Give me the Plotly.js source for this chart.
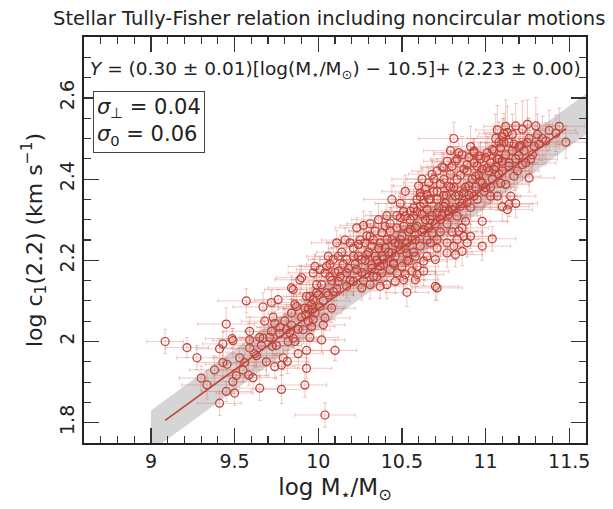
<!DOCTYPE html>
<html>
<head>
<meta charset="utf-8">
<script src="https://cdn.plot.ly/plotly-3.0.1.min.js"></script>
<style>html,body{margin:0;padding:0;background:#fff}#chart{width:613px;height:509px}</style>
</head>
<body>
<div id="chart"></div>
<script>
// Galaxy sample: stellar mass (log M*/Msun) and velocity (log c1 at 2.2 Rd)
const logMstar = [
  9.085, 9.215, 9.275, 9.335, 9.41, 9.45, 9.41, 9.43, 9.43, 9.455,
  9.485, 9.49, 9.51, 9.49, 9.45, 9.50, 9.56, 9.57, 9.585, 9.61,
  9.59, 9.59, 9.59, 9.65, 9.63, 9.65, 9.67, 9.67, 9.72, 9.76,
  9.725, 9.72, 9.74, 9.78, 9.79, 9.815, 9.78, 9.74, 9.77, 9.80,
  9.81, 9.83, 9.85, 9.86, 9.86, 9.87, 9.85, 9.84, 9.89, 9.92,
  9.93, 9.93, 9.91, 9.925, 9.94, 9.96, 9.97, 9.98, 10.01, 10.02,
  10.04, 10.03, 10.04, 10.08, 10.09, 10.10, 10.06, 9.95, 9.97, 10.00,
  9.92, 9.84,
  10.81, 11.07, 11.11, 11.13, 11.18, 11.22, 11.25, 11.30, 11.42, 11.48,
  11.10, 11.14, 11.08, 11.17, 11.21, 11.26, 11.29, 11.32, 11.36, 11.20,
  11.27, 11.22, 11.26, 11.19, 11.17, 11.14, 11.10, 11.07, 11.03, 11.01,
  11.05, 11.08, 11.12, 11.15, 11.10, 11.14, 11.18, 11.13, 11.07, 11.03,
  10.98, 10.98, 11.04, 11.00, 10.97, 10.94, 10.90, 10.93, 10.89, 10.84,
  10.83, 10.82, 10.95, 10.98, 11.01, 10.87, 10.83, 10.79, 10.75, 10.78,
  10.73, 10.66, 10.69, 10.64, 10.61, 10.61, 10.59, 10.66, 10.71, 10.765,
  10.82, 10.87, 10.90, 10.93, 10.89, 10.85, 10.80, 10.75, 10.71, 10.65,
  10.61, 10.57, 10.55, 10.52, 10.49, 10.57, 10.62, 10.67, 10.73, 10.78,
  10.83, 10.88, 10.86, 10.84, 10.87, 10.83, 10.91, 10.89, 10.81, 10.77,
  10.71, 10.68, 10.63, 10.59, 10.55, 10.51, 10.47, 10.43, 10.40, 10.38,
  10.34, 10.27, 10.31, 10.41, 10.46, 10.49, 10.53, 10.58, 10.61, 10.67,
  10.71, 10.77, 10.82, 10.86, 10.65, 10.70, 10.63, 10.58, 10.53, 10.49,
  10.44, 10.40, 10.37, 10.32, 10.28, 10.24, 10.11, 10.29, 10.34, 10.39,
  10.45, 10.50, 10.54, 10.59, 10.56, 10.52, 10.47, 10.43, 10.37, 10.32,
  10.26, 10.21, 10.17, 10.12, 10.09, 10.05, 10.01, 9.97, 9.98, 10.12,
  10.17, 10.23, 10.28, 10.33, 10.38, 10.41, 10.46, 10.51, 10.58, 10.63,
  10.59, 10.70, 10.71, 10.53, 10.37, 10.31, 10.26, 10.21, 10.17, 10.12,
  10.07, 10.04, 9.99, 9.93, 9.90, 10.06, 10.19, 10.60, 10.65, 10.68,
  10.71, 10.75, 10.77, 10.80, 10.93, 11.00, 11.09, 11.04, 10.96,
  // crowded core along the relation
  10.02, 10.05, 10.08, 10.10, 10.13, 10.15, 10.18, 10.03, 10.07, 10.14,
  10.19, 10.11, 9.96, 9.99, 10.16,
  10.22, 10.24, 10.26, 10.28, 10.30, 10.32, 10.35, 10.36, 10.38, 10.25,
  10.29, 10.33, 10.39, 10.21, 10.27, 10.35, 10.31, 10.36, 10.23,
  10.42, 10.44, 10.46, 10.48, 10.50, 10.52, 10.54, 10.56, 10.58, 10.43,
  10.47, 10.51, 10.55, 10.59, 10.45, 10.53, 10.57, 10.41, 10.49, 10.44, 10.52,
  10.62, 10.64, 10.66, 10.68, 10.70, 10.72, 10.74, 10.76, 10.78, 10.63,
  10.67, 10.71, 10.75, 10.79, 10.65, 10.73, 10.77, 10.69, 10.62, 10.74, 10.80,
  10.82, 10.84, 10.86, 10.88, 10.90, 10.92, 10.94, 10.96, 10.98, 10.85,
  10.89, 10.93, 10.97, 10.81, 10.91, 10.95, 10.99, 10.86, 10.91, 10.79,
  11.02, 11.04, 11.06, 11.08, 11.10, 11.12, 11.14, 11.16, 11.18, 11.20,
  11.23, 11.25, 11.28, 11.31, 11.05, 11.11, 11.16, 11.03, 11.09, 11.24,
  11.34, 11.38, 11.44, 11.06, 11.12,
  9.62, 9.66, 9.69, 9.71, 9.75, 9.77, 9.82, 9.84, 9.88, 9.90,
  9.94, 9.97, 9.68, 9.73, 9.88, 9.95,
  9.30, 9.38, 9.53, 9.55
];
const logC1 = [
  2.000, 1.985, 1.960, 1.893, 1.848, 2.043, 1.982, 1.994, 1.948, 1.944,
  2.007, 2.002, 1.916, 1.901, 1.877, 1.873, 1.948, 2.100, 1.917, 1.911,
  1.984, 2.004, 2.025, 1.885, 1.965, 2.010, 2.008, 2.085, 2.096, 2.103,
  1.988, 2.025, 1.938, 1.942, 1.960, 1.951, 1.882, 2.045, 2.035, 2.051,
  2.029, 2.021, 2.008, 2.000, 2.091, 2.086, 2.128, 2.132, 2.152, 1.893,
  1.934, 1.978, 2.029, 2.066, 2.080, 2.037, 2.054, 2.070, 2.086, 2.004,
  1.819, 2.041, 2.058, 2.082, 2.123, 1.978, 2.115, 2.111, 2.103, 2.115,
  2.082, 2.070,
  2.500, 2.521, 2.512, 2.515, 2.531, 2.523, 2.535, 2.531, 2.513, 2.491,
  2.504, 2.490, 2.491, 2.486, 2.483, 2.500, 2.481, 2.486, 2.494, 2.458,
  2.449, 2.436, 2.403, 2.420, 2.407, 2.432, 2.444, 2.449, 2.440, 2.465,
  2.424, 2.412, 2.387, 2.358, 2.332, 2.338, 2.340, 2.325, 2.358, 2.358,
  2.296, 2.235, 2.253, 2.379, 2.395, 2.407, 2.453, 2.465, 2.436, 2.465,
  2.450, 2.444, 2.432, 2.424, 2.428, 2.424, 2.399, 2.412, 2.399, 2.383,
  2.387, 2.391, 2.370, 2.375, 2.366, 2.357, 2.350, 2.350, 2.350, 2.360,
  2.358, 2.366, 2.383, 2.358, 2.342, 2.333, 2.325, 2.333, 2.317, 2.325,
  2.333, 2.329, 2.321, 2.309, 2.305, 2.309, 2.313, 2.300, 2.300, 2.313,
  2.309, 2.296, 2.280, 2.272, 2.259, 2.251, 2.259, 2.243, 2.235, 2.243,
  2.251, 2.268, 2.276, 2.284, 2.276, 2.284, 2.280, 2.272, 2.284, 2.268,
  2.272, 2.286, 2.259, 2.251, 2.243, 2.251, 2.243, 2.251, 2.235, 2.243,
  2.230, 2.218, 2.214, 2.222, 2.210, 2.202, 2.198, 2.210, 2.218, 2.226,
  2.218, 2.230, 2.243, 2.235, 2.243, 2.239, 2.243, 2.214, 2.210, 2.202,
  2.194, 2.185, 2.198, 2.185, 2.173, 2.165, 2.169, 2.177, 2.185, 2.189,
  2.202, 2.210, 2.202, 2.210, 2.202, 2.185, 2.177, 2.169, 2.185, 2.173,
  2.169, 2.177, 2.165, 2.160, 2.169, 2.140, 2.148, 2.152, 2.152, 2.173,
  2.165, 2.136, 2.132, 2.121, 2.136, 2.140, 2.132, 2.148, 2.136, 2.148,
  2.160, 2.169, 2.120, 2.111, 2.157, 2.210, 2.243, 2.383, 2.362, 2.412,
  2.420, 2.428, 2.444, 2.432, 2.469, 2.453, 2.477, 2.473, 2.457,
  2.14, 2.12, 2.15, 2.17, 2.16, 2.19, 2.18, 2.10, 2.19, 2.22,
  2.15, 2.13, 2.09, 2.14, 2.25,
  2.19, 2.21, 2.17, 2.20, 2.22, 2.18, 2.20, 2.23, 2.21, 2.25,
  2.26, 2.25, 2.19, 2.23, 2.15, 2.16, 2.29, 2.30, 2.28,
  2.22, 2.25, 2.21, 2.24, 2.26, 2.23, 2.27, 2.25, 2.28, 2.29,
  2.31, 2.32, 2.30, 2.32, 2.19, 2.20, 2.22, 2.31, 2.34, 2.35, 2.37,
  2.27, 2.30, 2.28, 2.31, 2.29, 2.33, 2.31, 2.34, 2.32, 2.34,
  2.35, 2.37, 2.36, 2.38, 2.25, 2.27, 2.29, 2.40, 2.40, 2.43, 2.27,
  2.33, 2.36, 2.34, 2.38, 2.36, 2.40, 2.38, 2.41, 2.39, 2.41,
  2.42, 2.44, 2.45, 2.38, 2.33, 2.35, 2.37, 2.46, 2.48, 2.47,
  2.42, 2.40, 2.43, 2.45, 2.42, 2.46, 2.44, 2.47, 2.45, 2.48,
  2.47, 2.49, 2.46, 2.51, 2.47, 2.49, 2.51, 2.38, 2.39, 2.44,
  2.50, 2.52, 2.53, 2.50, 2.53,
  1.97, 1.99, 1.95, 2.01, 1.99, 2.02, 2.00, 2.04, 2.03, 2.06,
  2.05, 2.08, 2.05, 2.06, 1.97, 2.01,
  1.91, 1.93, 1.96, 1.93
];
// 1-sigma uncertainties on each galaxy
const errMstar = [
  0.11, 0.13, 0.12, 0.15, 0.13, 0.17, 0.14, 0.12, 0.15, 0.13,
  0.16, 0.12, 0.14, 0.13, 0.15, 0.11, 0.13, 0.17, 0.12, 0.14,
  0.15, 0.13, 0.16, 0.12, 0.14, 0.15, 0.13, 0.18, 0.15, 0.14,
  0.13, 0.16, 0.12, 0.15, 0.14, 0.13, 0.15, 0.16, 0.14, 0.13,
  0.15, 0.12, 0.14, 0.16, 0.15, 0.13, 0.17, 0.14, 0.15, 0.13,
  0.15, 0.14, 0.16, 0.13, 0.15, 0.14, 0.13, 0.16, 0.15, 0.14,
  0.18, 0.13, 0.15, 0.14, 0.16, 0.13, 0.15, 0.14, 0.13, 0.15,
  0.16, 0.14,
  0.21, 0.13, 0.15, 0.14, 0.13, 0.16, 0.15, 0.14, 0.13, 0.12,
  0.15, 0.14, 0.16, 0.15, 0.13, 0.14, 0.15, 0.13, 0.14, 0.15,
  0.16, 0.14, 0.15, 0.13, 0.16, 0.14, 0.15, 0.13, 0.14, 0.16,
  0.15, 0.13, 0.14, 0.15, 0.16, 0.14, 0.13, 0.15, 0.14, 0.16,
  0.15, 0.17, 0.14, 0.15, 0.13, 0.16, 0.15, 0.14, 0.13, 0.15,
  0.16, 0.14, 0.15, 0.13, 0.14, 0.15, 0.16, 0.14, 0.15, 0.13,
  0.14, 0.15, 0.17, 0.14, 0.15, 0.13, 0.14, 0.16, 0.15, 0.14,
  0.15, 0.13, 0.14, 0.16, 0.15, 0.14, 0.17, 0.13, 0.14, 0.15,
  0.16, 0.14, 0.15, 0.13, 0.14, 0.16, 0.15, 0.14, 0.15, 0.13,
  0.14, 0.15, 0.16, 0.14, 0.17, 0.13, 0.14, 0.15, 0.16, 0.14,
  0.15, 0.13, 0.14, 0.15, 0.16, 0.14, 0.15, 0.13, 0.14, 0.17,
  0.16, 0.14, 0.15, 0.13, 0.14, 0.15, 0.16, 0.14, 0.15, 0.13,
  0.14, 0.15, 0.16, 0.14, 0.15, 0.13, 0.14, 0.15, 0.16, 0.14,
  0.15, 0.13, 0.14, 0.15, 0.16, 0.14, 0.15, 0.13, 0.14, 0.15,
  0.16, 0.14, 0.15, 0.13, 0.14, 0.15, 0.16, 0.14, 0.15, 0.13,
  0.14, 0.15, 0.16, 0.14, 0.15, 0.13, 0.14, 0.15, 0.16, 0.14,
  0.15, 0.13, 0.14, 0.15, 0.16, 0.14, 0.15, 0.13, 0.14, 0.15,
  0.16, 0.14, 0.15, 0.13, 0.14, 0.15, 0.16, 0.14, 0.15, 0.13,
  0.14, 0.15, 0.16, 0.14, 0.15, 0.13, 0.14, 0.15, 0.16, 0.14,
  0.15, 0.13, 0.14, 0.15, 0.16, 0.14, 0.15, 0.13, 0.14, 0.15,
  0.16, 0.14, 0.15, 0.13, 0.14, 0.15, 0.16, 0.14, 0.15, 0.13,
  0.14, 0.15, 0.16, 0.14, 0.15, 0.13, 0.14, 0.15, 0.16, 0.14,
  0.15, 0.13, 0.14, 0.15, 0.16, 0.14, 0.15, 0.13, 0.14,
  0.17, 0.14, 0.16, 0.13, 0.18, 0.15, 0.14, 0.17, 0.13, 0.16,
  0.15, 0.18, 0.14, 0.16, 0.15,
  0.13, 0.17, 0.15, 0.14, 0.18, 0.16, 0.13, 0.15, 0.17, 0.14,
  0.16, 0.15, 0.13, 0.18, 0.14, 0.16, 0.15, 0.17, 0.13,
  0.15, 0.18, 0.14, 0.16, 0.13, 0.17, 0.15, 0.14, 0.16, 0.18,
  0.13, 0.15, 0.17, 0.14, 0.16, 0.15, 0.13, 0.18, 0.14, 0.16, 0.15,
  0.17, 0.13, 0.15, 0.16, 0.14, 0.18, 0.15, 0.13, 0.17, 0.14,
  0.16, 0.15, 0.13, 0.18, 0.14, 0.16, 0.15, 0.17, 0.13, 0.15, 0.16,
  0.14, 0.18, 0.15, 0.13, 0.17, 0.14, 0.16, 0.15, 0.13, 0.18,
  0.14, 0.16, 0.15, 0.17, 0.13, 0.15, 0.16, 0.14, 0.18, 0.15,
  0.13, 0.17, 0.14, 0.16, 0.15, 0.13, 0.18, 0.14, 0.16, 0.15,
  0.17, 0.13, 0.15, 0.16, 0.14, 0.18, 0.15, 0.13, 0.17, 0.14,
  0.16, 0.15, 0.13, 0.18, 0.14,
  0.15, 0.17, 0.13, 0.16, 0.14, 0.18, 0.15, 0.13, 0.17, 0.14,
  0.16, 0.15, 0.13, 0.18, 0.14, 0.16,
  0.15, 0.17, 0.13, 0.16
];
const errC1 = [
  0.030, 0.025, 0.030, 0.035, 0.030, 0.040, 0.025, 0.030, 0.035, 0.030,
  0.025, 0.030, 0.035, 0.030, 0.025, 0.030, 0.035, 0.030, 0.025, 0.030,
  0.030, 0.025, 0.035, 0.030, 0.030, 0.025, 0.030, 0.035, 0.030, 0.025,
  0.030, 0.035, 0.030, 0.025, 0.030, 0.030, 0.035, 0.030, 0.025, 0.030,
  0.035, 0.030, 0.025, 0.030, 0.035, 0.030, 0.025, 0.030, 0.035, 0.030,
  0.025, 0.030, 0.035, 0.030, 0.025, 0.030, 0.035, 0.030, 0.025, 0.030,
  0.030, 0.025, 0.030, 0.035, 0.030, 0.025, 0.030, 0.035, 0.030, 0.025,
  0.030, 0.035,
  0.040, 0.060, 0.050, 0.065, 0.055, 0.070, 0.060, 0.070, 0.045, 0.040,
  0.045, 0.040, 0.050, 0.045, 0.040, 0.050, 0.045, 0.040, 0.045, 0.040,
  0.035, 0.040, 0.035, 0.040, 0.035, 0.040, 0.035, 0.040, 0.035, 0.040,
  0.035, 0.030, 0.035, 0.030, 0.035, 0.030, 0.035, 0.030, 0.035, 0.030,
  0.030, 0.035, 0.030, 0.035, 0.030, 0.035, 0.030, 0.035, 0.030, 0.035,
  0.030, 0.035, 0.030, 0.035, 0.030, 0.035, 0.030, 0.035, 0.030, 0.035,
  0.030, 0.035, 0.030, 0.035, 0.030, 0.035, 0.030, 0.035, 0.030, 0.035,
  0.030, 0.035, 0.030, 0.035, 0.030, 0.035, 0.030, 0.035, 0.030, 0.035,
  0.030, 0.035, 0.030, 0.035, 0.030, 0.035, 0.030, 0.035, 0.030, 0.035,
  0.030, 0.035, 0.030, 0.035, 0.030, 0.035, 0.030, 0.035, 0.030, 0.035,
  0.030, 0.035, 0.030, 0.035, 0.030, 0.035, 0.030, 0.035, 0.030, 0.035,
  0.030, 0.035, 0.030, 0.035, 0.030, 0.035, 0.030, 0.035, 0.030, 0.035,
  0.030, 0.035, 0.030, 0.035, 0.030, 0.035, 0.030, 0.035, 0.030, 0.035,
  0.030, 0.035, 0.030, 0.035, 0.030, 0.035, 0.030, 0.035, 0.030, 0.035,
  0.030, 0.035, 0.030, 0.035, 0.030, 0.035, 0.030, 0.035, 0.030, 0.035,
  0.030, 0.035, 0.030, 0.035, 0.030, 0.035, 0.030, 0.035, 0.030, 0.035,
  0.030, 0.035, 0.030, 0.035, 0.030, 0.035, 0.030, 0.035, 0.030, 0.035,
  0.030, 0.035, 0.030, 0.035, 0.030, 0.035, 0.030, 0.035, 0.030, 0.035,
  0.030, 0.035, 0.030, 0.035, 0.030, 0.035, 0.030, 0.035, 0.030, 0.035,
  0.030, 0.035, 0.030, 0.035, 0.030, 0.035, 0.030, 0.035, 0.030,
  0.030, 0.040, 0.025, 0.035, 0.030, 0.045, 0.025, 0.030, 0.040, 0.035,
  0.025, 0.030, 0.040, 0.035, 0.030,
  0.035, 0.030, 0.040, 0.025, 0.035, 0.030, 0.045, 0.030, 0.025, 0.040,
  0.035, 0.030, 0.025, 0.040, 0.030, 0.035, 0.030, 0.040, 0.025,
  0.030, 0.040, 0.035, 0.025, 0.030, 0.045, 0.030, 0.035, 0.025, 0.040,
  0.030, 0.035, 0.040, 0.025, 0.030, 0.035, 0.040, 0.030, 0.025, 0.035, 0.040,
  0.035, 0.030, 0.040, 0.025, 0.035, 0.030, 0.045, 0.030, 0.025, 0.040,
  0.035, 0.030, 0.025, 0.040, 0.030, 0.035, 0.030, 0.040, 0.025, 0.035, 0.030,
  0.040, 0.035, 0.030, 0.045, 0.035, 0.040, 0.030, 0.035, 0.045, 0.040,
  0.035, 0.050, 0.040, 0.035, 0.030, 0.040, 0.035, 0.045, 0.050, 0.040,
  0.045, 0.040, 0.050, 0.045, 0.040, 0.055, 0.045, 0.050, 0.040, 0.055,
  0.050, 0.060, 0.045, 0.050, 0.055, 0.060, 0.050, 0.040, 0.045, 0.050,
  0.055, 0.050, 0.045, 0.060, 0.065,
  0.030, 0.025, 0.035, 0.030, 0.025, 0.035, 0.030, 0.025, 0.035, 0.030,
  0.025, 0.035, 0.030, 0.025, 0.035, 0.030,
  0.030, 0.035, 0.025, 0.030
];

// Best-fit relation: Y = slope * (log M - pivot) + zeroPoint
const slope = 0.30, pivot = 10.5, zeroPoint = 2.23;
const sigmaPerp = 0.04, sigma0 = 0.06;
const bandHalf = 0.05;             // half-height of the shaded scatter band
const bandRange = [9.0, 11.7];

const fitY = x => slope * (x - pivot) + zeroPoint;
const xMin = Math.min(...logMstar), xMax = Math.max(...logMstar);

const red = '#c0433a';
const font = 'DejaVu Sans, sans-serif';

const traces = [
  { // lower edge of the band
    x: bandRange, y: bandRange.map(x => fitY(x) - bandHalf),
    mode: 'lines', line: {width: 0}, hoverinfo: 'skip', showlegend: false
  },
  { // upper edge, filled down to the lower edge
    x: bandRange, y: bandRange.map(x => fitY(x) + bandHalf),
    mode: 'lines', line: {width: 0}, fill: 'tonexty',
    fillcolor: 'rgba(185,185,185,0.6)', hoverinfo: 'skip', showlegend: false
  },
  {
    x: logMstar, y: logC1, mode: 'markers', type: 'scatter',
    error_x: {type: 'data', array: errMstar, color: 'rgba(215,105,95,0.36)', thickness: 1, width: 2},
    error_y: {type: 'data', array: errC1, color: 'rgba(215,105,95,0.36)', thickness: 1, width: 2},
    marker: {symbol: 'circle-open', size: 8, color: red, line: {width: 1.2, color: red}},
    showlegend: false
  },
  {
    x: [xMin, xMax], y: [xMin, xMax].map(fitY),
    mode: 'lines', line: {color: red, width: 1.6}, showlegend: false
  }
];

const axisCommon = {
  showline: true, linewidth: 2, linecolor: '#222', mirror: 'allticks',
  ticks: 'inside', ticklen: 15, tickwidth: 1.2, tickcolor: '#333',
  showgrid: false, zeroline: false,
  tickfont: {family: font, size: 19, color: '#222'}
};

const layout = {
  width: 613, height: 509,
  margin: {l: 84, r: 27, t: 37, b: 66},
  paper_bgcolor: '#fff', plot_bgcolor: '#fff',
  title: {
    text: 'Stellar Tully-Fisher relation including noncircular motions',
    font: {family: font, size: 19.5, color: '#222'},
    x: 0.537, xanchor: 'center', y: 0.965, yanchor: 'middle'
  },
  xaxis: Object.assign({}, axisCommon, {
    range: [8.6, 11.6], tick0: 9, dtick: 0.5,
    minor: {dtick: 0.1, ticks: 'inside', ticklen: 7, tickwidth: 1.2, tickcolor: '#333'},
    title: {text: 'log M<sub>⋆</sub>/M<sub>⊙</sub>', font: {family: font, size: 23, color: '#222'}, standoff: 8}
  }),
  yaxis: Object.assign({}, axisCommon, {
    range: [1.75, 2.75], tick0: 1.8, dtick: 0.2, tickangle: -90,
    minor: {dtick: 0.05, ticks: 'inside', ticklen: 7, tickwidth: 1.2, tickcolor: '#333'},
    title: {text: 'log c<sub>1</sub>(2.2) (km s<sup>−1</sup>)', font: {family: font, size: 22, color: '#222'}, standoff: 8}
  }),
  annotations: [
    {
      xref: 'paper', yref: 'paper', x: 0.5, y: 0.919, xanchor: 'center', yanchor: 'middle',
      text: '<i>Y</i> = (' + slope.toFixed(2) + ' ± 0.01)[log(M<sub>⋆</sub>/M<sub>⊙</sub>) − ' + pivot.toFixed(1) +
            ']+ (' + zeroPoint.toFixed(2) + ' ± 0.00)',
      showarrow: false, font: {family: font, size: 18.5, color: '#222'}
    },
    {
      xref: 'paper', yref: 'paper', x: 0.018, y: 0.867, xanchor: 'left', yanchor: 'top',
      text: '<i>σ</i><sub>⊥</sub> = ' + sigmaPerp.toFixed(2) + '<br><i>σ</i><sub>0</sub> = ' + sigma0.toFixed(2),
      align: 'left', showarrow: false, bgcolor: '#fff',
      bordercolor: '#444', borderwidth: 1, borderpad: 3,
      font: {family: font, size: 21, color: '#222'}
    }
  ]
};

Plotly.newPlot('chart', traces, layout, {displayModeBar: false, staticPlot: true});
</script>
</body>
</html>
